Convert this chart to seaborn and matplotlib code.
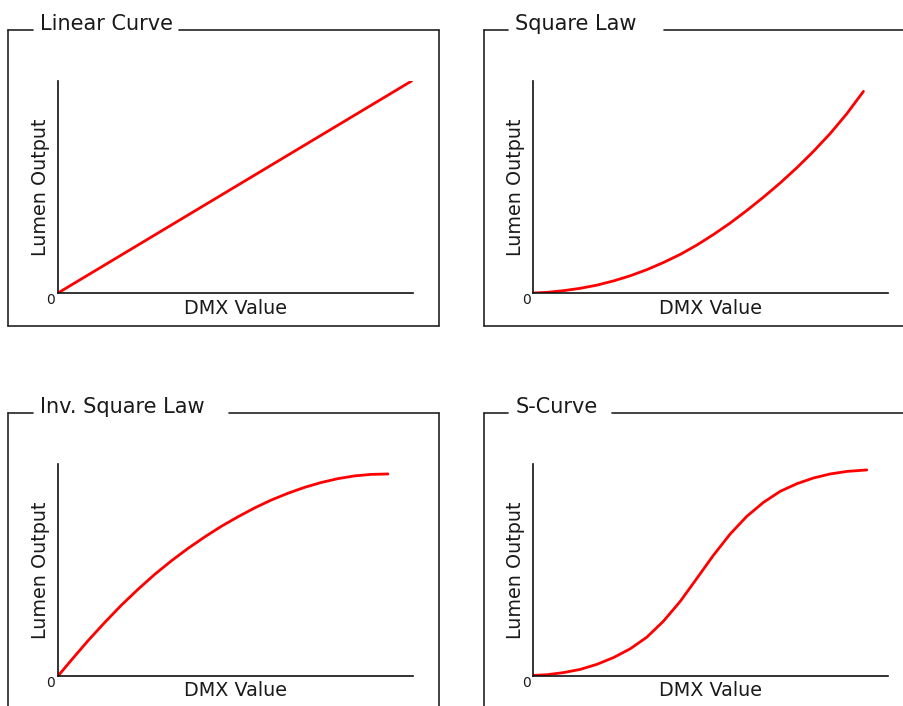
import numpy as np
import pandas as pd
import matplotlib
matplotlib.use("Agg")
import matplotlib.pyplot as plt
from matplotlib.lines import Line2D
import seaborn as sns

# curve data: DMX value (0-255) vs lumen output (%)
linear_dmx = [0, 254]
linear_lum = [0, 100]

square_dmx = [0, 9.6, 21.5, 33.5, 45.5, 57.5, 69.4, 81.4, 93.4, 105.4, 117.3,
              129.3, 141.3, 153.2, 165.2, 177.2, 189.2, 201.1, 213.1, 225.1, 237.0]
square_lum = [0, 0.3, 1.1, 2.2, 3.7, 5.7, 8.1, 11.0, 14.4, 18.2, 22.6,
              27.6, 33.0, 38.9, 45.2, 51.9, 59.1, 66.8, 75.2, 84.6, 95.1]

inv_dmx = [0, 9.6, 21.5, 33.5, 45.5, 57.5, 69.4, 81.4, 93.4, 105.4, 117.3,
           129.3, 141.3, 153.2, 165.2, 177.2, 189.2, 201.1, 213.1, 225.1, 237.0]
inv_lum = [0, 7.5, 16.6, 25.2, 33.4, 40.9, 47.9, 54.3, 60.2, 65.6, 70.6,
           75.1, 79.3, 83.0, 86.2, 89.0, 91.3, 93.1, 94.4, 95.1, 95.3]

s_dmx = [0, 9.6, 21.5, 33.5, 45.5, 57.5, 69.4, 81.4, 93.4, 105.4, 117.3,
         129.3, 141.3, 153.2, 165.2, 177.2, 189.2, 201.1, 213.1, 225.1, 239.4]
s_lum = [0.3, 0.6, 1.6, 3.1, 5.5, 8.7, 12.8, 18.3, 25.9, 35.2, 46.0,
         57.0, 67.0, 75.3, 81.9, 87.1, 90.7, 93.4, 95.3, 96.5, 97.2]

titles = ["Linear Curve", "Square Law", "Inv. Square Law", "S-Curve"]
curves = [(linear_dmx, linear_lum), (square_dmx, square_lum),
          (inv_dmx, inv_lum), (s_dmx, s_lum)]

sns.set_style("white")
plt.rcParams["font.family"] = ["DejaVu Sans"]

W, H = 904, 706
fig = plt.figure(figsize=(W / 100, H / 100), dpi=100)

# axes boxes in pixels: left, top
ax_w, ax_h = 355, 212
ax_boxes = [(58, 81), (533.5, 81), (58, 464), (533.5, 464)]
gap_ends = [179, 664, 229, 612]
frame_col = "#222222"
text_col = "#1a1a1a"


def fx(px):
    return px / W


def fy(py):
    return 1 - py / H


for i, (title, (xs, ys)) in enumerate(zip(titles, curves)):
    left, top = ax_boxes[i]
    ax = fig.add_axes([fx(left), fy(top + ax_h), ax_w / W, ax_h / H])
    df = pd.DataFrame({"DMX Value": xs, "Lumen Output": ys})
    sns.lineplot(data=df, x="DMX Value", y="Lumen Output", ax=ax,
                 color="#ff0000", linewidth=2.0, sort=False, estimator=None)
    ax.lines[-1].set_solid_joinstyle("round")
    ax.set_xlim(0, 255)
    ax.set_ylim(0, 100)
    ax.set_xticks([])
    ax.set_yticks([])
    for s in ["top", "right"]:
        ax.spines[s].set_visible(False)
    for s in ["left", "bottom"]:
        ax.spines[s].set_color("#111111")
        ax.spines[s].set_linewidth(1.2)
    ax.set_xlabel("DMX Value", fontsize=13.8, color=text_col, va="center")
    ax.set_ylabel("Lumen Output", fontsize=13.8, color=text_col, va="center")
    ax.xaxis.set_label_coords(0.5, -15 / ax_h)
    ax.yaxis.set_label_coords(-18 / ax_w, 0.5)
    ax.text(-7 / ax_w, -7 / ax_h, "0", transform=ax.transAxes,
            ha="center", va="center", fontsize=10, color=text_col)

    # frame with the title breaking the top border
    fl, ft = left - 50, top - 51
    fr, fb = left + ax_w + 26, top + ax_h + 33
    kw = dict(color=frame_col, linewidth=1.2, transform=fig.transFigure)
    fig.add_artist(Line2D([fx(fl), fx(fl)], [fy(ft), fy(fb)], **kw))
    fig.add_artist(Line2D([fx(fr), fx(fr)], [fy(ft), fy(fb)], **kw))
    fig.add_artist(Line2D([fx(fl), fx(fr)], [fy(fb), fy(fb)], **kw))
    fig.add_artist(Line2D([fx(fl), fx(fl + 25)], [fy(ft), fy(ft)], **kw))
    fig.add_artist(Line2D([fx(gap_ends[i]), fx(fr)], [fy(ft), fy(ft)], **kw))
    fig.text(fx(fl + 32), fy(ft), title, ha="left", va="baseline",
             fontsize=15, color=text_col)

fig.savefig("out.png", dpi=100)
